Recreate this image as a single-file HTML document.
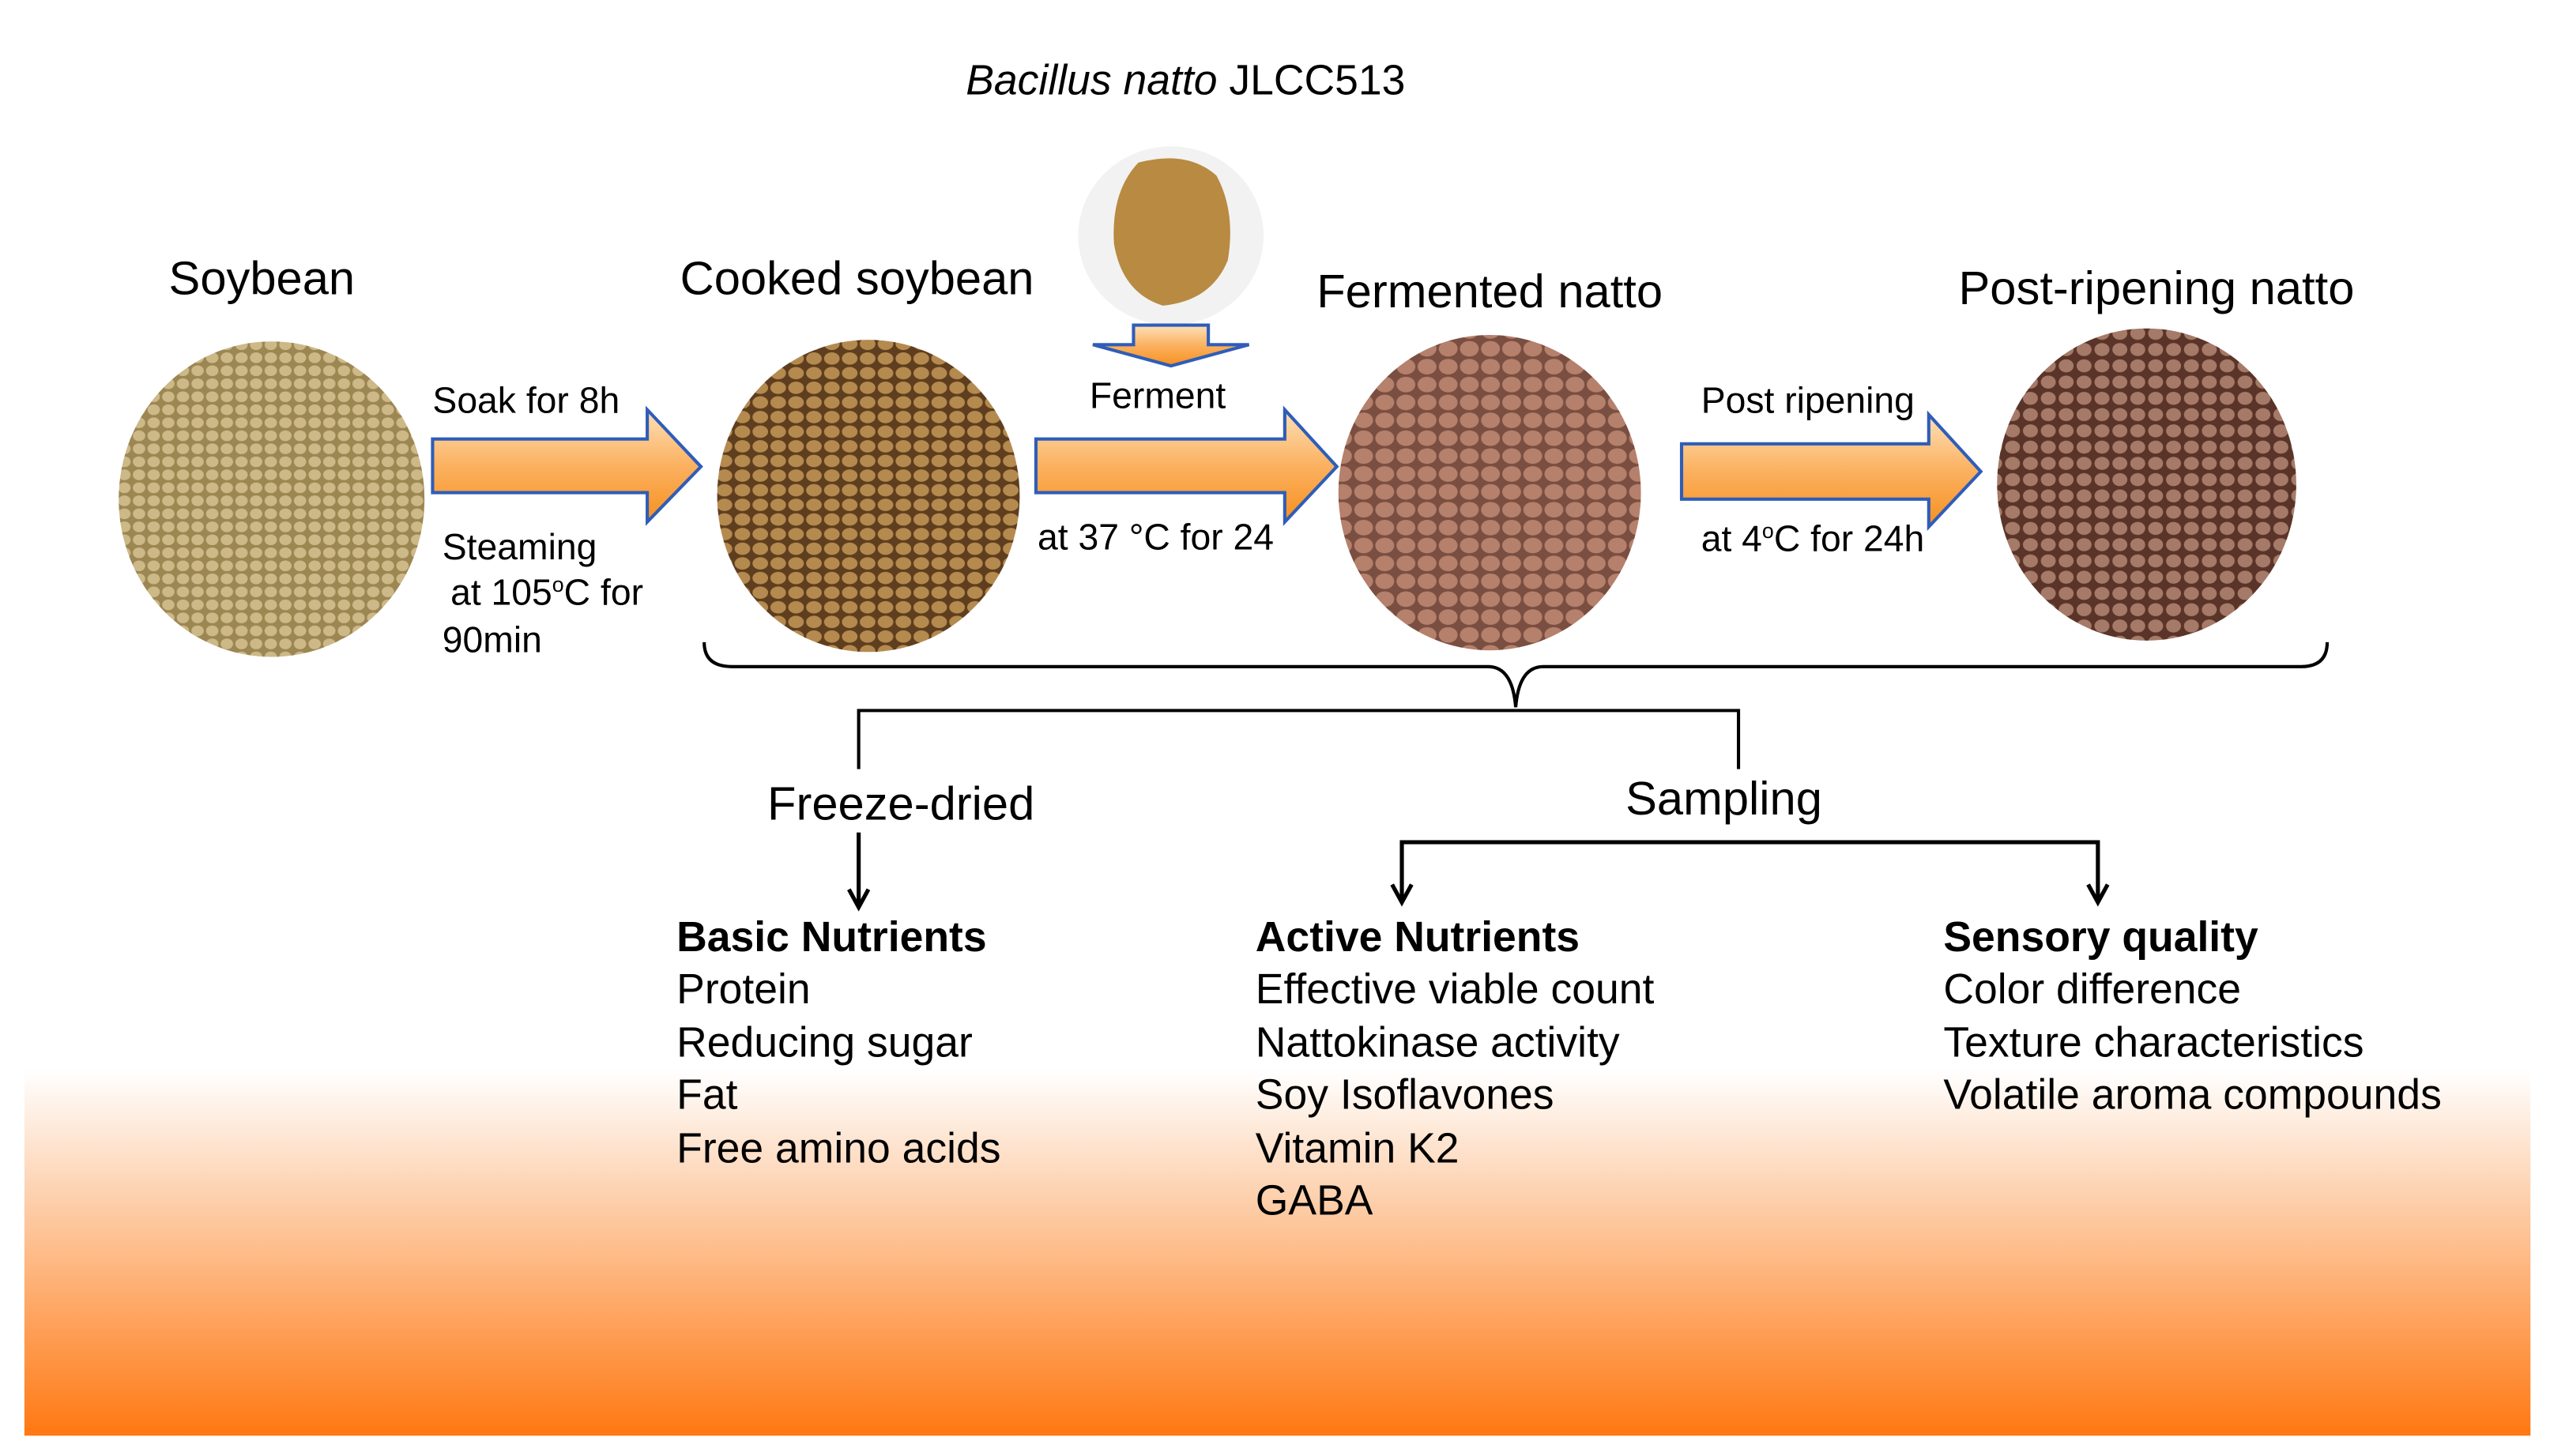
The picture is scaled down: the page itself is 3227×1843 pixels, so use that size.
<!DOCTYPE html>
<html><head><meta charset="utf-8"><style>html,body{margin:0;padding:0;background:#fff}svg{display:block}</style></head>
<body>
<svg width="3227" height="1843" viewBox="0 0 1568 895.5" preserveAspectRatio="none" xmlns="http://www.w3.org/2000/svg" font-family="Liberation Sans, Arial, sans-serif">
<defs>
<linearGradient id="bg" x1="0" y1="0" x2="0" y2="1">
<stop offset="0" stop-color="#ffffff"/><stop offset="0.35" stop-color="#fdd0ad"/><stop offset="1" stop-color="#ff7812"/></linearGradient>
<linearGradient id="ar" x1="0" y1="0" x2="0" y2="1">
<stop offset="0" stop-color="#fde0b8"/><stop offset="0.5" stop-color="#fbb160"/><stop offset="1" stop-color="#f7901f"/></linearGradient>
<pattern id="p1" width="9" height="8" patternUnits="userSpaceOnUse"><rect width="9" height="8" fill="#9c8652"/><ellipse cx="4.5" cy="4" rx="3.8" ry="3.3" fill="#cdb887"/></pattern>
<pattern id="p2" width="11" height="9" patternUnits="userSpaceOnUse"><rect width="11" height="9" fill="#5e3e1e"/><ellipse cx="5.5" cy="4.5" rx="4.8" ry="3.8" fill="#b58a4f"/></pattern>
<pattern id="p3" width="13" height="11" patternUnits="userSpaceOnUse"><rect width="13" height="11" fill="#7a4e40"/><ellipse cx="6.5" cy="5.5" rx="5.8" ry="4.8" fill="#b5806c"/></pattern>
<pattern id="p4" width="11" height="10" patternUnits="userSpaceOnUse"><rect width="11" height="10" fill="#5a3428"/><ellipse cx="5.5" cy="5" rx="4.6" ry="4" fill="#a57a68"/></pattern>
</defs>
<rect x="15" y="658" width="1541" height="225" fill="url(#bg)"/>
<text x="729" y="58" font-size="26" text-anchor="middle"><tspan font-style="italic">Bacillus natto</tspan> JLCC513</text>
<g font-size="29" text-anchor="middle">
<text x="161" y="181">Soybean</text>
<text x="527" y="181">Cooked soybean</text>
<text x="916" y="189">Fermented natto</text>
<text x="1326" y="187">Post-ripening natto</text>
</g>
<ellipse cx="167" cy="307" rx="94" ry="97" fill="url(#p1)"/>
<ellipse cx="534" cy="305" rx="93" ry="96" fill="url(#p2)"/>
<ellipse cx="916" cy="303" rx="93" ry="97" fill="url(#p3)"/>
<ellipse cx="1320" cy="298" rx="92" ry="96" fill="url(#p4)"/>
<ellipse cx="720" cy="145" rx="57" ry="55" fill="#f2f2f2"/>
<path d="M700,100 Q730,92 748,108 Q760,130 755,160 Q745,185 715,188 Q690,180 685,150 Q683,118 700,100 Z" fill="#b88a42"/>
<path d="M697,200 H743 V212 H768 L720,225 L672,212 H697 Z" fill="url(#ar)" stroke="#2f5db8" stroke-width="2"/>
<path d="M266,270 H398 V252 L431,287 L398,321 V303 H266 Z" fill="url(#ar)" stroke="#2f5db8" stroke-width="2"/>
<path d="M637,270 H790 V252 L822,287 L790,321 V303 H637 Z" fill="url(#ar)" stroke="#2f5db8" stroke-width="2"/>
<path d="M1034,273 H1186 V255 L1218,290 L1186,324 V307 H1034 Z" fill="url(#ar)" stroke="#2f5db8" stroke-width="2"/>
<g font-size="22.5">
<text x="266" y="254">Soak for 8h</text>
<text x="272" y="344">Steaming</text>
<text x="277" y="372">at 105<tspan font-size="13" dy="-8">o</tspan><tspan dy="8">C for</tspan></text>
<text x="272" y="401">90min</text>
<text x="670" y="251">Ferment</text>
<text x="638" y="338">at 37 °C for 24</text>
<text x="1046" y="254">Post ripening</text>
<text x="1046" y="339">at 4<tspan font-size="13" dy="-8">o</tspan><tspan dy="8">C for 24h</tspan></text>
</g>
<path d="M433,395 Q433,410 450,410 H915 Q930,410 932,435 Q934,410 949,410 H1415 Q1431,410 1431,395" fill="none" stroke="#000" stroke-width="2"/>
<path d="M528,473 V437 H1069 V473" fill="none" stroke="#000" stroke-width="2"/>
<text x="554" y="504" font-size="29" text-anchor="middle">Freeze-dried</text>
<text x="1060" y="501" font-size="29" text-anchor="middle">Sampling</text>
<line x1="528" y1="512" x2="528" y2="558" stroke="#000" stroke-width="2.5"/>
<path d="M522,547 L528,558 L534,547" fill="none" stroke="#000" stroke-width="2.5"/>
<path d="M862,555 V518 H1290 V555" fill="none" stroke="#000" stroke-width="2.5"/>
<path d="M856,544 L862,555 L868,544 M1284,544 L1290,555 L1296,544" fill="none" stroke="#000" stroke-width="2.5"/>
<g font-size="26">
<text x="416" y="585" font-weight="bold">Basic Nutrients</text>
<text x="416" y="617">Protein</text>
<text x="416" y="650">Reducing sugar</text>
<text x="416" y="682">Fat</text>
<text x="416" y="715">Free amino acids</text>
<text x="772" y="585" font-weight="bold">Active Nutrients</text>
<text x="772" y="617">Effective viable count</text>
<text x="772" y="650">Nattokinase activity</text>
<text x="772" y="682">Soy Isoflavones</text>
<text x="772" y="715">Vitamin K2</text>
<text x="772" y="747">GABA</text>
<text x="1195" y="585" font-weight="bold">Sensory quality</text>
<text x="1195" y="617">Color difference</text>
<text x="1195" y="650">Texture characteristics</text>
<text x="1195" y="682">Volatile aroma compounds</text>
</g>
</svg>
</body></html>
